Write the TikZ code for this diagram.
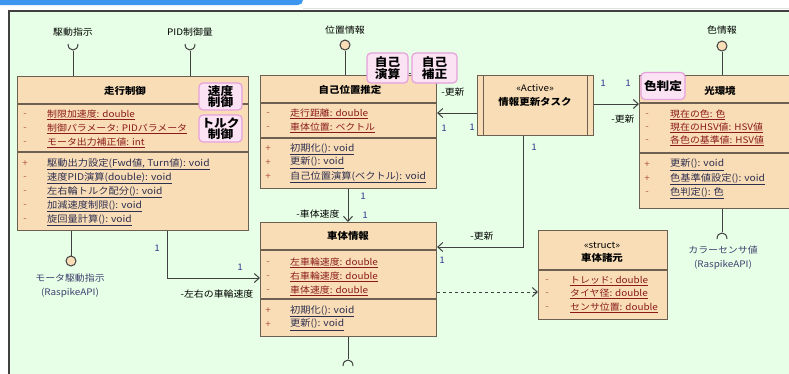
\documentclass[tikz,border=0pt]{standalone}
\usepackage{fontspec}
\setmainfont{Noto Sans CJK JP}[FakeStretch=1.1]
\usetikzlibrary{arrows.meta}
\definecolor{bggreen}{HTML}{E6FFE6}
\definecolor{clsfill}{HTML}{F8DDB7}
\definecolor{brd}{HTML}{6E6050}
\definecolor{badgefill}{HTML}{FBE3F3}
\definecolor{badgebrd}{HTML}{E6A0DC}
\definecolor{attrcol}{HTML}{8B1A1A}
\definecolor{methcol}{HTML}{2F2F4F}
\definecolor{markcol}{HTML}{B05040}
\definecolor{onecol}{HTML}{303C90}
\definecolor{apicol}{HTML}{404070}
\definecolor{topblue}{HTML}{3C96F0}
\tikzset{
  cls/.style={draw=brd, fill=clsfill, line width=1.1pt, rectangle, inner sep=0pt, anchor=north west},
  sep/.style={draw=brd, line width=1.3pt},
  hdr/.style={font=\fontsize{9.5}{10}\selectfont\bfseries, inner sep=0pt},
  mk/.style={font=\fontsize{9}{10}\selectfont, text=markcol, inner sep=0pt},
  attrt/.style={font=\fontsize{9}{10}\selectfont, text=attrcol, anchor=west, inner sep=0pt},
  metht/.style={font=\fontsize{9.3}{10}\selectfont, text=methcol, anchor=west, inner sep=0pt},
  badge/.style={draw=badgebrd, fill=badgefill, line width=1.2pt, rounded corners=4pt, inner sep=0pt, align=center, font=\fontsize{11.5}{11.5}\selectfont\bfseries},
  lbl/.style={font=\fontsize{9}{10}\selectfont, inner sep=0pt},
  one/.style={font=\fontsize{9}{10}\selectfont, text=onecol, inner sep=0pt},
  api/.style={font=\fontsize{9}{10}\selectfont, text=apicol, inner sep=0pt},
  wire/.style={draw=black!75, line width=1pt},
  assoc/.style={draw=black!75, line width=1pt, -{Straight Barb[length=5pt,width=9pt]}},
  dep/.style={draw=black!75, line width=1pt, dashed, -{Straight Barb[length=5pt,width=9pt]}},
  prov/.style={circle, draw=black!75, fill=clsfill, line width=1pt, minimum size=10pt, inner sep=0pt},
}
\newcommand\crow[7]{%
  \node[mk] (#1m) at (#2,#4) {#5};
  \node[#7] (#1) at (#3,#4) {\underline{#6}};}
\begin{document}
\begin{tikzpicture}[x=1pt,y=-1pt]
\useasboundingbox (0,0) rectangle (789,373);
% top decorations
\fill[topblue, rounded corners=5pt] (-10,-10) rectangle (303,5);
\draw[black!12, line width=0.8pt] (303,8) -- (789,8);
% frame
\draw[fill=bggreen, draw=black!75, line width=1.6pt] (9,11) rectangle (805,390);

% ===== 走行制御 =====
\node[cls, minimum width=231pt, minimum height=154pt] (run) at (17,76) {};
\draw[sep] (17,104) -- (248,104);
\draw[sep] (17,152) -- (248,152);
\node[hdr] (runh) at (125,91) {走行制御};
\crow{ra1}{25}{47}{115}{-}{制限加速度: double}{attrt}
\crow{ra2}{25}{47}{129}{-}{制御パラメータ: PIDパラメータ}{attrt}
\crow{ra3}{25}{47}{143}{-}{モータ出力補正値: int}{attrt}
\crow{rm1}{25}{47}{164}{+}{駆動出力設定(Fwd値, Turn値): void}{metht}
\crow{rm2}{25}{47}{178}{-}{速度PID演算(double): void}{metht}
\crow{rm3}{25}{47}{192}{-}{左右輪トルク配分(): void}{metht}
\crow{rm4}{25}{47}{206}{-}{加減速度制限(): void}{metht}
\crow{rm5}{25}{47}{220}{-}{旋回量計算(): void}{metht}
\node[badge, minimum width=43pt, minimum height=27pt] (b1) at (220.5,96.5) {速度\\制御};
\node[badge, minimum width=43pt, minimum height=27pt] (b2) at (220.5,128.5) {トルク\\制御};

% ===== 自己位置推定 =====
\node[cls, minimum width=176pt, minimum height=113pt] (self) at (260,75) {};
\draw[sep] (260,103) -- (436,103);
\draw[sep] (260,138) -- (436,138);
\node[hdr] (selfh) at (350,90) {自己位置推定};
\crow{sa1}{268}{290}{114}{-}{走行距離: double}{attrt}
\crow{sa2}{268}{290}{128}{-}{車体位置: ベクトル}{attrt}
\crow{sm1}{268}{290}{149}{+}{初期化(): void}{metht}
\crow{sm2}{268}{290}{163}{+}{更新(): void}{metht}
\crow{sm3}{268}{290}{177}{+}{自己位置演算(ベクトル): void}{metht}
\node[badge, minimum width=41pt, minimum height=30pt] (b3) at (387.5,68) {自己\\演算};
\node[badge, minimum width=45pt, minimum height=30pt] (b4) at (434.5,68) {自己\\補正};
\draw[wire] (b3.east |- 0,73) -- (b4.west |- 0,73);

% ===== 車体情報 =====
\node[cls, minimum width=176pt, minimum height=114pt] (body) at (260,222) {};
\draw[sep] (260,250) -- (436,250);
\draw[sep] (260,299) -- (436,299);
\node[hdr] (bodyh) at (348,236) {車体情報};
\crow{ba1}{268}{290}{263}{-}{左車輪速度: double}{attrt}
\crow{ba2}{268}{290}{277}{-}{右車輪速度: double}{attrt}
\crow{ba3}{268}{290}{291}{-}{車体速度: double}{attrt}
\crow{bm1}{268}{290}{311}{+}{初期化(): void}{metht}
\crow{bm2}{268}{290}{325}{+}{更新(): void}{metht}

% ===== 情報更新タスク =====
\node[cls, minimum width=116pt, minimum height=60pt] (task) at (477,75) {};
\draw[sep, line width=1pt] (483,75) -- (483,135);
\draw[sep, line width=1pt] (587,75) -- (587,135);
\node[lbl] (taskst) at (535,88) {«Active»};
\node[hdr] (taskh) at (535,102) {情報更新タスク};

% ===== 光環境 =====
\node[cls, minimum width=170pt, minimum height=133pt] (light) at (639,75) {};
\draw[sep] (639,103) -- (809,103);
\draw[sep] (639,153) -- (809,153);
\node[hdr] (lighth) at (720,91) {光環境};
\crow{la1}{647}{670}{115}{-}{現在の色: 色}{attrt}
\crow{la2}{647}{670}{128}{-}{現在のHSV値: HSV値}{attrt}
\crow{la3}{647}{670}{141}{-}{各色の基準値: HSV値}{attrt}
\crow{lm1}{647}{670}{165}{+}{更新(): void}{metht}
\crow{lm2}{647}{670}{179}{+}{色基準値設定(): void}{metht}
\crow{lm3}{647}{670}{193}{-}{色判定(): 色}{metht}
\node[badge, minimum width=44pt, minimum height=27pt] (b5) at (663,86) {色判定};

% ===== 車体諸元 =====
\node[cls, minimum width=129pt, minimum height=89pt] (spec) at (538,230) {};
\draw[sep] (538,270) -- (667,270);
\node[lbl] (specst) at (602,245) {«struct»};
\node[hdr] (spech) at (602,258) {車体諸元};
\crow{pa1}{547}{570}{281}{-}{トレッド: double}{attrt}
\crow{pa2}{547}{570}{294}{-}{タイヤ径: double}{attrt}
\crow{pa3}{547}{570}{308}{-}{センサ位置: double}{attrt}

% ===== interfaces =====
\node[lbl] (if1) at (73,32) {駆動指示};
\coordinate (s1) at (73,51);
\draw[wire] (68,44) .. controls (68,52) and (78,52) .. (78,44);
\draw[wire] (s1) -- (s1 |- run.north);
\node[lbl] (if2) at (190,32) {PID制御量};
\coordinate (s2) at (190,51);
\draw[wire] (185,44) .. controls (185,52) and (195,52) .. (195,44);
\draw[wire] (s2) -- (s2 |- run.north);
\node[lbl] (if3) at (345,30) {位置情報};
\node[prov] (c3) at (345,45) {};
\draw[wire] (c3) -- (c3 |- self.north);
\node[lbl] (if4) at (722,30) {色情報};
\node[prov] (c4) at (722,46) {};
\draw[wire] (c4) -- (c4 |- light.north);
\node[prov] (c5) at (71,261) {};
\draw[wire] (c5 |- run.south) -- (c5);
\node[api] (if5) at (70,278) {モータ駆動指示};
\node[api] (if5b) at (70,293) {(RaspikeAPI)};
\coordinate (s6) at (722,232);
\draw[wire] (s6 |- light.south) -- (s6);
\draw[wire] (717,239) .. controls (717,231) and (727,231) .. (727,239);
\node[api] (if6) at (723,250) {カラーセンサ値};
\node[api] (if6b) at (723,265) {(RaspikeAPI)};
\coordinate (s7) at (348,359);
\draw[wire] (s7 |- body.south) -- (s7);
\draw[wire] (343,366) .. controls (343,358) and (353,358) .. (353,366);

% ===== connectors =====
\draw[assoc] (task.west |- 0,113) -- (self.east |- 0,113);
\node[lbl] (l1) at (453,92) {-更新};
\node[one] (n1) at (444,128) {1};
\node[one] (n2) at (472,127) {1};

\draw[assoc] (task.east |- 0,104) -- (light.west |- 0,104);
\node[one] (n3) at (603,83) {1};
\node[one] (n4) at (628,83) {1};
\node[lbl] (l2) at (623,119) {-更新};

\draw[assoc] (task.south -| 523,0) |- (body.east |- 0,247);
\node[one] (n5) at (534,147) {1};
\node[lbl] (l3) at (482,236) {-更新};
\node[one] (n6) at (442,260) {1};

\draw[assoc] (self.south -| 348,0) -- (body.north -| 348,0);
\node[one] (n7) at (363,196) {1};
\node[lbl] (l4) at (318,214) {-車体速度};
\node[one] (n8) at (365,215) {1};

\draw[assoc] (run.south -| 167,0) |- (body.west |- 0,278);
\node[one] (n9) at (157,248) {1};
\node[one] (n10) at (240,267) {1};
\node[lbl] (l5) at (217,294) {-左右の車輪速度};

\draw[dep] (body.east |- 0,292) -- (spec.west |- 0,292);
\end{tikzpicture}
\end{document}
